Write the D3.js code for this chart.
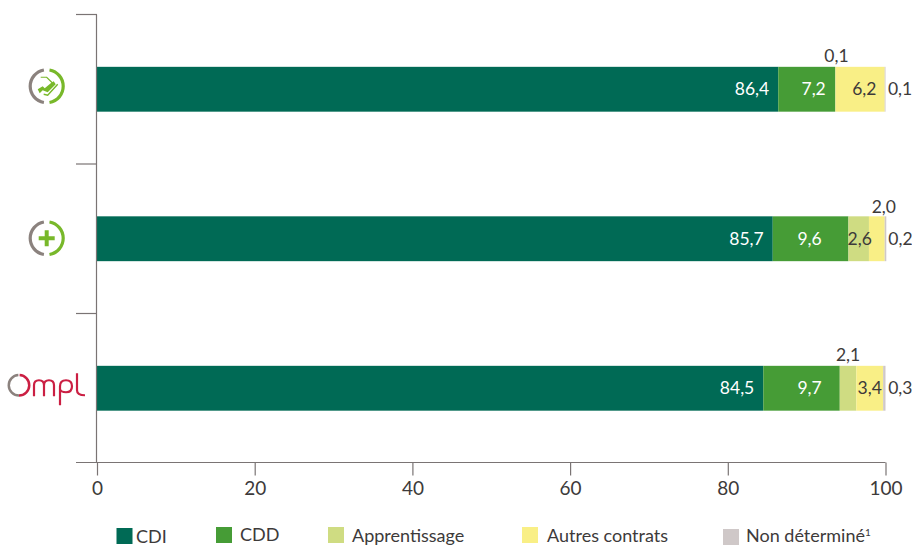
<!DOCTYPE html>
<html>
<head>
<meta charset="utf-8">
<script src="https://cdnjs.cloudflare.com/ajax/libs/d3/7.8.5/d3.min.js"></script>
<style>
  html, body { margin: 0; padding: 0; background: #fff; }
  text { font-family: Lato, sans-serif; font-size: 17.5px; fill: #3d3a3a; }
</style>
</head>
<body>
<script>
// Data
const categories = ["Sanitaire", "Plus", "Ompl"];
const seriesNames = ["CDI", "CDD", "Apprentissage", "Autres contrats", "Non déterminé"];
const sanitaireValues = [86.4, 7.2, 0.1, 6.2, 0.1];
const plusValues = [85.7, 9.6, 2.6, 2.0, 0.2];
const omplValues = [84.5, 9.7, 2.1, 3.4, 0.3];
const xTicks = [0, 20, 40, 60, 80, 100];

const seriesColors = ["#006a55", "#469c36", "#cfdc82", "#f9ef86", "#cfc8c8"];
const rows = [sanitaireValues, plusValues, omplValues];

const width = 912, height = 546;

const svg = d3.select("body")
    .append("svg")
    .attr("width", width)
    .attr("height", height)
    .style("display", "block");

const x = d3.scaleLinear().domain([0, 100]).range([97, 885.5]);
const y = d3.scaleBand().domain(categories).range([14.5, 463]);
const barHeight = y.bandwidth() * 0.3;

// Where each label sits relative to its segment: [dx from centre, dy from bar centre]
// Tiny segments get their label above the bar or to the right of it
const labelNudge = {
    Sanitaire: [[0, 0], [7, 0], [1, -33], [4, 0], [15, 0]],
    Plus: [[0, 0], [-1, 0], [1, 0], [7, -32], [15, 0]],
    Ompl: [[0, 0], [8, 0], [0, -33], [0, 0], [16, 0]]
};

// Stacked bars
const barLayer = svg.append("g");
const labelLayer = svg.append("g");
categories.forEach(function(cat, i) {
    let cum = 0;
    rows[i].forEach(function(v, j) {
        const x0 = x(cum), x1 = x(cum + v);
        cum += v;
        const cy = y(cat) + y.bandwidth() / 2;
        barLayer.append("rect")
            .attr("x", x0)
            .attr("y", cy - barHeight / 2)
            .attr("width", x1 - x0)
            .attr("height", barHeight)
            .attr("fill", seriesColors[j]);

        const nudge = labelNudge[cat][j];
        const label = labelLayer.append("text")
            .attr("dy", "0.35em")
            .attr("y", cy + nudge[1])
            .style("fill", j < 2 && nudge[1] === 0 ? "#fff" : "#3d3a3a")
            .text(String(v.toFixed(1)).replace(".", ","));
        if (j === 0) {
            label.attr("x", x1 - 9).attr("text-anchor", "end");
        } else {
            label.attr("x", (x0 + x1) / 2 + nudge[0]).attr("text-anchor", "middle");
        }
    });
});

// X axis
const xAxis = svg.append("g")
    .attr("transform", "translate(0,462.5)")
    .call(d3.axisBottom(x).tickValues(xTicks).tickSize(13).tickSizeOuter(0).tickPadding(6));
xAxis.select(".domain").remove();
xAxis.selectAll("line").attr("stroke", "#7a7474").attr("stroke-width", 1.2);
xAxis.selectAll("text").style("font-size", "19px").style("font-family", "Lato, sans-serif");

// Axis lines and the category ticks, which sit on the band edges
svg.append("line")
    .attr("x1", 76).attr("x2", x(100)).attr("y1", 462.5).attr("y2", 462.5)
    .attr("stroke", "#7a7474").attr("stroke-width", 1.2);
svg.append("line")
    .attr("x1", x(0) - 0.5).attr("x2", x(0) - 0.5).attr("y1", 14.5).attr("y2", 462.5)
    .attr("stroke", "#7a7474").attr("stroke-width", 1.2);
categories.forEach(function(cat) {
    svg.append("line")
        .attr("x1", 76).attr("x2", x(0)).attr("y1", y(cat)).attr("y2", y(cat))
        .attr("stroke", "#7a7474").attr("stroke-width", 1.2);
});

// Logos in place of category names
function ring(g, r) {
    const arc = d3.arc().innerRadius(r - 1.6).outerRadius(r + 1.6);
    g.append("path").attr("fill", "#8b827e")
        .attr("d", arc({ startAngle: -Math.PI + 0.17, endAngle: -0.17 }));
    g.append("path").attr("fill", "#78b82a")
        .attr("d", arc({ startAngle: 0.17, endAngle: Math.PI - 0.17 }));
}

const logo1 = svg.append("g")
    .attr("transform", `translate(46.7,${y("Sanitaire") + y.bandwidth() / 2 - 3})`);
ring(logo1, 16.5);
logo1.append("path")
    .attr("fill", "none").attr("stroke", "#78b82a").attr("stroke-width", 1.2)
    .attr("d", "M-6,-9 L0,-9 L6,-3");
logo1.append("path")
    .attr("fill", "none").attr("stroke", "#78b82a").attr("stroke-width", 1.4)
    .attr("d", "M-3,8 L1,9 L11,-2");
logo1.append("path")
    .attr("fill", "#78b82a")
    .attr("d", "M-9,3 L-4,0 L-2,2 L4,-3 L7,-5 L9,-2 L1,6 L-4,4 L-7,7 Z");

const logo2 = svg.append("g")
    .attr("transform", `translate(46.7,${y("Plus") + y.bandwidth() / 2 - 0.5})`);
ring(logo2, 16.5);
logo2.append("path")
    .attr("fill", "none").attr("stroke", "#78b82a").attr("stroke-width", 4)
    .attr("d", "M-8,0 H8 M0,-8 V8");

const logo3 = svg.append("g")
    .attr("transform", `translate(0,${y("Ompl") + y.bandwidth() / 2 - 388})`);
const arcO = d3.arc().innerRadius(9).outerRadius(11.5);
logo3.append("path").attr("fill", "#8b827e").attr("transform", "translate(19,385)")
    .attr("d", arcO({ startAngle: -Math.PI, endAngle: -0.06 }));
logo3.append("path").attr("fill", "#cb1f43").attr("transform", "translate(19,385)")
    .attr("d", arcO({ startAngle: 0.06, endAngle: Math.PI }));
logo3.append("path")
    .attr("fill", "none").attr("stroke", "#cb1f43").attr("stroke-width", 2.2)
    .attr("d", "M34,396 V385 Q34,380 39,380 Q44,380 44,385 V396 M44,385 Q44,380 49,380 Q54,380 54,385 V396"
        + " M60,405 V386 Q60,380 66,380 Q72,380 72,386 Q72,392 66,392 Q61,392 60,389"
        + " M77,373 V390 Q77,395 85,395");

// Legend
const legendBoxX = [116.5, 216, 328, 522, 723];
const legendTextX = [136, 240, 352, 547, 746];
const legendBoxY = [528, 527, 527, 527, 529];
const legendBaseline = [543, 541, 542, 542, 542];
seriesNames.forEach(function(name, i) {
    svg.append("rect")
        .attr("x", legendBoxX[i]).attr("y", legendBoxY[i])
        .attr("width", 16).attr("height", 16)
        .attr("fill", seriesColors[i]);
    const t = svg.append("text")
        .attr("x", legendTextX[i]).attr("y", legendBaseline[i])
        .style("font-size", "18px")
        .text(name);
    if (i === 4) {
        t.append("tspan").attr("dy", -6).style("font-size", "10px").text("1");
    }
});
</script>
</body>
</html>
